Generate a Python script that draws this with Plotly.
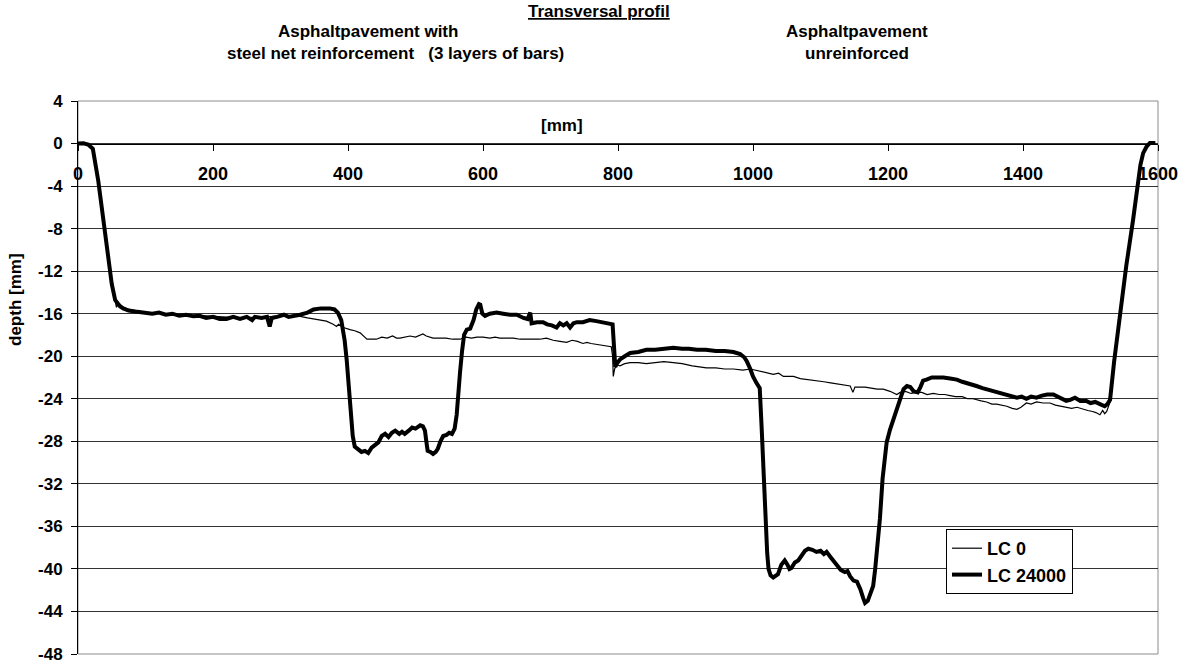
import plotly.graph_objects as go

# ---------------- data ----------------
x_lc24000 = [0, 8, 15, 22, 30, 40, 50, 55, 58, 62, 67, 75, 85, 97, 110, 120, 130, 140, 150, 160,
             171, 180, 190, 200, 210, 220, 230, 240, 250, 258, 262, 272, 280, 284, 287, 295, 305, 312, 319, 329,
             340, 349, 360, 373, 380, 385, 390, 395, 398, 401, 404, 407, 410, 415, 420, 425, 430, 435, 440, 445,
             450, 455, 460, 465, 470, 476, 480, 484, 490, 495, 500, 507, 511, 514, 516, 518, 522, 526, 530, 533,
             537, 541, 546, 550, 554, 558, 561, 563, 566, 569, 572, 576, 581, 586, 590, 594, 596, 599, 603, 610,
             620, 630, 640, 650, 656, 660, 666, 670, 672, 680, 689, 695, 702, 709, 714, 719, 724, 729, 734, 739,
             748, 758, 768, 778, 788, 792, 794, 796, 798, 803, 810, 818, 830, 842, 855, 868, 882, 895, 905, 917,
             930, 945, 958, 971, 981, 987, 991, 996, 1000, 1005, 1010, 1013, 1016, 1018, 1021, 1023, 1026, 1030, 1034, 1037,
             1042, 1047, 1051, 1054, 1057, 1062, 1067, 1072, 1077, 1082, 1088, 1094, 1100, 1105, 1109, 1115, 1120, 1124, 1130, 1136,
             1140, 1144, 1149, 1154, 1159, 1163, 1166, 1170, 1174, 1178, 1181, 1184, 1188, 1192, 1195, 1198, 1203, 1208, 1214, 1220,
             1223, 1228, 1233, 1238, 1244, 1248, 1252, 1257, 1265, 1272, 1282, 1292, 1302, 1310, 1316, 1323, 1331, 1340, 1346, 1354,
             1361, 1368, 1376, 1384, 1391, 1398, 1405, 1412, 1420, 1428, 1436, 1445, 1452, 1458, 1464, 1470, 1477, 1485, 1494, 1500,
             1507, 1514, 1518, 1521, 1525, 1529, 1535, 1544, 1553, 1563, 1570, 1574, 1578, 1583, 1588, 1596]
y_lc24000 = [0.0, 0.02, -0.1, -0.5, -3.5, -8.5, -13.2, -14.7, -15.0, -15.3, -15.5, -15.7, -15.8, -15.9, -16.0, -15.9, -16.1, -16.0, -16.2, -16.1,
             -16.25, -16.2, -16.4, -16.3, -16.5, -16.5, -16.3, -16.5, -16.3, -16.6, -16.3, -16.4, -16.3, -17.2, -16.4, -16.3, -16.1, -16.3, -16.25, -16.1,
             -15.9, -15.6, -15.5, -15.5, -15.6, -15.9, -16.6, -18.5, -20.3, -23.0, -25.5, -27.5, -28.5, -28.7, -29.0, -28.9, -29.1, -28.6, -28.3, -28.1,
             -27.5, -27.3, -27.6, -27.2, -27.0, -27.3, -27.1, -27.3, -27.0, -26.7, -26.8, -26.5, -26.6, -27.0, -28.0, -28.9, -29.0, -29.2, -29.0, -28.7,
             -28.0, -27.5, -27.4, -27.2, -27.3, -26.8, -25.5, -23.5, -21.5, -19.5, -18.0, -17.5, -17.4, -16.6, -15.6, -15.1, -15.15, -16.0, -16.2, -16.0,
             -15.9, -16.0, -16.1, -16.1, -16.3, -16.4, -16.5, -15.9, -16.9, -16.8, -16.8, -17.0, -17.1, -17.3, -16.9, -17.1, -16.9, -17.3, -16.9, -16.8,
             -16.8, -16.6, -16.7, -16.8, -16.9, -17.0, -19.0, -21.0, -20.7, -20.3, -20.0, -19.7, -19.6, -19.4, -19.4, -19.3, -19.2, -19.3, -19.3, -19.4,
             -19.4, -19.5, -19.5, -19.6, -19.8, -20.1, -20.5, -21.2, -21.9, -22.5, -23.0, -27.0, -32.0, -35.3, -38.5, -40.0, -40.6, -40.8, -40.6, -40.5,
             -39.6, -39.2, -39.6, -40.0, -39.9, -39.4, -39.2, -38.7, -38.3, -38.1, -38.2, -38.4, -38.3, -38.6, -38.4, -38.9, -39.3, -39.7, -40.1, -40.3,
             -40.2, -40.7, -41.1, -41.2, -41.9, -42.7, -43.2, -43.0, -42.2, -41.6, -40.0, -38.0, -35.3, -31.5, -29.3, -28.1, -26.9, -25.9, -24.6, -23.4,
             -23.1, -22.8, -22.9, -23.3, -23.4, -22.9, -22.3, -22.2, -22.0, -22.0, -22.0, -22.1, -22.2, -22.4, -22.5, -22.6, -22.8, -23.0, -23.1, -23.3,
             -23.4, -23.5, -23.6, -23.8, -23.9, -23.8, -24.0, -23.8, -23.9, -23.7, -23.6, -23.6, -23.8, -24.0, -24.2, -24.1, -23.9, -24.2, -24.2, -24.4,
             -24.3, -24.5, -24.6, -24.7, -24.5, -24.1, -20.5, -15.9, -11.5, -7.2, -3.8, -2.0, -0.9, -0.3, 0.05, 0.05]

x_lc0 = [0, 8, 15, 22, 30, 40, 50, 55, 57, 60, 67, 80, 100, 130, 160, 200, 240, 280, 300, 320,
         329, 340, 350, 360, 368, 378, 383, 386, 393, 403, 410, 418, 423, 428, 435, 442, 450, 458, 466, 472,
         477, 485, 492, 500, 507, 511, 516, 521, 526, 535, 545, 555, 566, 575, 583, 591, 600, 610, 618, 625,
         635, 645, 655, 664, 674, 684, 694, 704, 714, 724, 732, 740, 748, 754, 760, 770, 778, 783, 790, 792,
         793, 795, 798, 803, 810, 818, 830, 842, 855, 868, 882, 895, 910, 920, 931, 945, 958, 971, 985, 996,
         1010, 1020, 1030, 1038, 1045, 1050, 1060, 1070, 1084, 1095, 1105, 1115, 1125, 1135, 1144, 1148, 1151, 1158, 1166, 1175,
         1184, 1193, 1203, 1213, 1218, 1226, 1234, 1242, 1250, 1258, 1267, 1276, 1284, 1292, 1300, 1310, 1318, 1326, 1331, 1338,
         1346, 1354, 1361, 1368, 1376, 1384, 1391, 1397, 1405, 1412, 1420, 1430, 1440, 1448, 1456, 1464, 1472, 1480, 1489, 1496,
         1503, 1508, 1514, 1518, 1521, 1524, 1529, 1535, 1544, 1553, 1563, 1570, 1574, 1578, 1583, 1588, 1596]
y_lc0 = [0.0, 0.02, -0.1, -0.5, -3.5, -8.5, -13.2, -14.8, -15.4, -15.0, -15.4, -15.7, -15.9, -16.0, -16.1, -16.3, -16.4, -16.3, -16.2, -16.2,
         -16.25, -16.4, -16.5, -16.6, -16.7, -17.0, -17.2, -17.0, -17.3, -17.5, -17.6, -17.8, -18.1, -18.4, -18.4, -18.4, -18.2, -18.3, -18.1, -18.3,
         -18.3, -18.2, -18.1, -18.2, -18.0, -17.9, -18.1, -18.2, -18.3, -18.3, -18.3, -18.4, -18.4, -18.2, -18.3, -18.2, -18.2, -18.3, -18.2, -18.3,
         -18.3, -18.3, -18.4, -18.4, -18.4, -18.4, -18.3, -18.5, -18.6, -18.7, -18.5, -18.6, -18.8, -18.7, -18.8, -18.9, -19.0, -19.0, -19.1, -20.0,
         -21.9, -21.2, -20.8, -20.9, -20.7, -20.6, -20.6, -20.7, -20.6, -20.5, -20.6, -20.7, -20.9, -21.0, -21.1, -21.1, -21.2, -21.2, -21.3, -21.2,
         -21.4, -21.5, -21.7, -21.6, -21.9, -21.9, -21.9, -22.1, -22.2, -22.3, -22.4, -22.5, -22.6, -22.7, -22.8, -23.4, -22.9, -22.9, -22.9, -23.0,
         -23.1, -23.1, -23.3, -23.6, -23.4, -23.3, -23.5, -23.4, -23.4, -23.6, -23.5, -23.6, -23.6, -23.7, -23.8, -23.8, -24.0, -24.0, -24.1, -24.2,
         -24.3, -24.5, -24.5, -24.6, -24.7, -24.9, -25.0, -24.8, -24.4, -24.5, -24.3, -24.4, -24.4, -24.6, -24.7, -24.8, -24.9, -24.8, -25.0, -25.1,
         -25.2, -25.3, -25.5, -25.1, -25.4, -25.2, -24.3, -20.5, -15.9, -11.5, -7.2, -3.8, -2.0, -0.9, -0.3, 0.05, 0.05]

series_names = ["LC 0", "LC 24000"]
x_ticks = [0, 200, 400, 600, 800, 1000, 1200, 1400, 1600]
y_ticks = [4, 0, -4, -8, -12, -16, -20, -24, -28, -32, -36, -40, -44, -48]

title_text = "Transversal profil"
left_label = ["Asphaltpavement with", "steel net reinforcement\u00a0\u00a0\u00a0(3 layers of bars)"]
right_label = ["Asphaltpavement", "unreinforced"]
x_title = "[mm]"
y_title = "depth [mm]"

# ---------------- layout helpers ----------------
W, H = 1182, 664
L, R, T, B = 78, 1158, 101, 654
FONT = "Arial, 'Liberation Sans', sans-serif"


def px(x):
    return (x - L) / (R - L)


def py(y):
    return (B - y) / (B - T)


fig = go.Figure()
fig.add_trace(go.Scatter(x=x_lc0, y=y_lc0, mode="lines", name=series_names[0],
                         line=dict(color="black", width=1.2)))
fig.add_trace(go.Scatter(x=x_lc24000, y=y_lc24000, mode="lines", name=series_names[1],
                         line=dict(color="black", width=4)))

ymin, ymax = -48, 4
zero_pos = (0 - ymin) / (ymax - ymin)

fig.update_layout(
    width=W, height=H,
    margin=dict(l=L, r=W - R, t=T, b=H - B, pad=0, autoexpand=False),
    paper_bgcolor="white", plot_bgcolor="white",
    font=dict(family=FONT, size=16, color="black", weight="bold"),
    showlegend=True,
    legend=dict(x=px(946), y=py(529), xanchor="left", yanchor="top",
                bordercolor="black", borderwidth=1, bgcolor="white",
                font=dict(size=18, family=FONT, weight="bold"),
                tracegroupgap=0, itemwidth=30),
    xaxis=dict(range=[0, 1600], tickvals=x_ticks, ticktext=[str(v) for v in x_ticks],
               showgrid=False, zeroline=False, showline=True, linecolor="black", linewidth=1,
               ticks="outside", ticklen=6, tickcolor="black",
               anchor="free", position=zero_pos, side="bottom",
               ticklabelstandoff=8, automargin=False,
               tickfont=dict(size=18, family=FONT, weight="bold")),
    yaxis=dict(range=[ymin, ymax], tickvals=y_ticks, ticktext=[str(v) for v in y_ticks],
               showgrid=True, gridcolor="#333333", gridwidth=1, zeroline=False,
               showline=True, linecolor="black", linewidth=1,
               ticks="outside", ticklen=6, tickcolor="black",
               ticklabeloverflow="allow", ticklabelstandoff=5, automargin=False,
               tickfont=dict(size=17, family=FONT, weight="bold")),
)

# gray plot-area border (top / right / bottom)
fig.add_shape(type="rect", xref="paper", yref="paper", x0=0, x1=1, y0=0, y1=1,
              line=dict(color="#8c8c8c", width=1), layer="below")

ann_font = dict(family=FONT, size=17, color="black", weight="bold")
fig.add_annotation(text="<u>" + title_text + "</u>", xref="paper", yref="paper",
                   x=px(599), y=py(11), showarrow=False,
                   font=dict(family=FONT, size=17, color="black", weight="bold"),
                   xanchor="center", yanchor="middle")
fig.add_annotation(text=left_label[0], xref="paper", yref="paper", x=px(368), y=py(31),
                   showarrow=False, font=ann_font, xanchor="center", yanchor="middle")
fig.add_annotation(text=left_label[1], xref="paper", yref="paper", x=px(395), y=py(53),
                   showarrow=False, font=ann_font, xanchor="center", yanchor="middle")
fig.add_annotation(text=right_label[0], xref="paper", yref="paper", x=px(857), y=py(31),
                   showarrow=False, font=ann_font, xanchor="center", yanchor="middle")
fig.add_annotation(text=right_label[1], xref="paper", yref="paper", x=px(857), y=py(53),
                   showarrow=False, font=ann_font, xanchor="center", yanchor="middle")
fig.add_annotation(text=x_title, xref="paper", yref="paper", x=px(562), y=py(125),
                   showarrow=False, font=ann_font, xanchor="center", yanchor="middle")
fig.add_annotation(text=y_title, xref="paper", yref="paper", x=px(15), y=py(300),
                   showarrow=False, font=ann_font, textangle=-90,
                   xanchor="center", yanchor="middle")

fig.write_html("out.html")
